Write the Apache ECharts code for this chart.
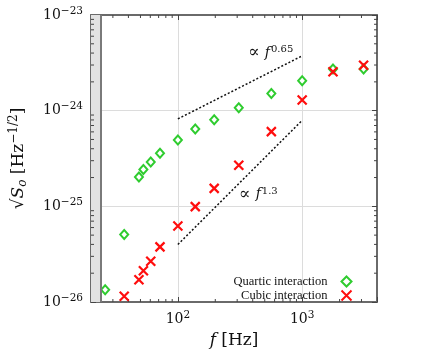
<!DOCTYPE html>
<html>
<head>
<meta charset="utf-8">
<script src="https://cdn.jsdelivr.net/npm/echarts@6/dist/echarts.min.js"></script>
<style>
  html, body { margin: 0; padding: 0; background: #fff; }
  #main { width: 436px; height: 354px; }
</style>
</head>
<body>
<div id="main"></div>
<script>
// frequencies [Hz]
var quarticFreq = [26, 37, 48.6, 52.8, 60.5, 71.8, 100, 138, 196, 309, 565, 1000, 1770, 3120];
var quarticAmp  = [1.34e-26, 5.07e-26, 2.02e-25, 2.43e-25, 2.9e-25, 3.59e-25, 4.95e-25, 6.45e-25, 8.05e-25, 1.07e-24, 1.51e-24, 2.05e-24, 2.72e-24, 2.72e-24];

var cubicFreq = [37, 48.6, 52.8, 60.5, 71.8, 100, 138, 196, 309, 565, 1000, 1770, 3120];
var cubicAmp  = [1.15e-26, 1.71e-26, 2.12e-26, 2.67e-26, 3.77e-26, 6.24e-26, 9.93e-26, 1.54e-25, 2.69e-25, 6.04e-25, 1.29e-24, 2.55e-24, 2.99e-24];

// reference slopes f^0.65 and f^1.3
var slope065 = [[100, 8.2e-25], [1000, 3.74e-24]];
var slope13  = [[100, 3.99e-26], [1000, 7.92e-25]];
var note065 = [557, 4.02e-24];
var note13  = [443, 1.33e-25];

var lowCut = 24;   // shaded band below this frequency
var xMin = 20, xMax = 4000;
var yMin = 1e-26, yMax = 1e-23;
var yUnit = 1e-26; // log axis works in units of 1e-26

var xMinorTicks = [30, 40, 50, 60, 70, 80, 90, 200, 300, 400, 500, 600, 700, 800, 900, 2000, 3000];
var yMinorTicks = [2e-26, 3e-26, 4e-26, 5e-26, 6e-26, 7e-26, 8e-26, 9e-26,
                   2e-25, 3e-25, 4e-25, 5e-25, 6e-25, 7e-25, 8e-25, 9e-25,
                   2e-24, 3e-24, 4e-24, 5e-24, 6e-24, 7e-24, 8e-24, 9e-24];

var serif = 'DejaVu Serif';
var green = '#2fcc2f';
var red = '#ff0d0d';
var frame = '#6a6a6a';

function sc(v) { return v / yUnit; }
function pairs(xs, ys) {
	return xs.map(function (x, i) { return [x, sc(ys[i])]; });
}

var tickData = [];
xMinorTicks.forEach(function (v) { tickData.push([v, 1, 0]); });
yMinorTicks.forEach(function (v) { tickData.push([xMin, sc(v), 1]); });

var supRich = {
	b: { fontFamily: serif, fontSize: 14, color: '#111' },
	s: { fontFamily: serif, fontSize: 10.5, color: '#111', verticalAlign: 'top', padding: [0, 0, 8, 0] }
};

var noteRich = {
	n: { fontFamily: serif, fontSize: 17, color: '#111' },
	i: { fontFamily: serif, fontStyle: 'italic', fontSize: 14, color: '#111' },
	s: { fontFamily: serif, fontSize: 10, color: '#111', verticalAlign: 'top', padding: [0, 0, 7, 1] }
};

var myChart = echarts.init(document.getElementById('main'));

var option = {
	animation: false,
	grid: { left: 88, right: 59, top: 15, bottom: 51 },
	legend: {
		data: ['Quartic interaction', 'Cubic interaction'],
		orient: 'vertical',
		align: 'right',
		right: 77,
		bottom: 46,
		itemWidth: 10,
		itemHeight: 10,
		itemGap: 0,
		textStyle: { fontFamily: 'Liberation Serif', fontSize: 12.5, color: '#111', padding: [0, 9, 0, 0], lineHeight: 12 }
	},
	xAxis: [{
		type: 'log', logBase: 10, min: xMin, max: xMax,
		position: 'bottom',
		name: '{i|f}{n| [Hz]}',
		nameLocation: 'middle',
		nameGap: 30,
		nameTextStyle: {
			rich: {
				i: { fontFamily: serif, fontStyle: 'italic', fontSize: 17, color: '#111' },
				n: { fontFamily: serif, fontSize: 17, color: '#111' }
			}
		},
		axisLine: { lineStyle: { color: frame, width: 2 } },
		axisTick: { inside: true, length: 5, lineStyle: { color: '#444' } },
		splitLine: { show: true, lineStyle: { color: '#dcdcdc', width: 1 } },
		axisLabel: {
			margin: 8,
			formatter: function (v) {
				var e = Math.log10(v);
				if (Math.abs(e - Math.round(e)) > 1e-6) return '';
				return '{b|10}{s|' + Math.round(e) + '}';
			},
			rich: supRich
		}
	}, {
		type: 'log', logBase: 10, min: xMin, max: xMax,
		position: 'top',
		axisLine: { lineStyle: { color: frame, width: 2 } },
		axisTick: { inside: true, length: 5, lineStyle: { color: '#444' } },
		splitLine: { show: false },
		axisLabel: { show: false }
	}],
	yAxis: [{
		type: 'log', logBase: 10, min: sc(yMin), max: sc(yMax),
		position: 'left',
		name: '{n|√}{i|S}{sub|o}{n| [Hz}{s|−1/2}{n|]}',
		nameLocation: 'middle',
		nameRotate: 90,
		nameGap: 62,
		nameTextStyle: {
			rich: {
				n: { fontFamily: serif, fontSize: 17, color: '#111' },
				i: { fontFamily: serif, fontStyle: 'italic', fontSize: 17, color: '#111' },
				sub: { fontFamily: serif, fontStyle: 'italic', fontSize: 12, color: '#111', verticalAlign: 'bottom', padding: [4, 0, 0, 0] },
				s: { fontFamily: serif, fontSize: 12, color: '#111', verticalAlign: 'top', padding: [0, 0, 9, 0] }
			}
		},
		axisLine: { lineStyle: { color: frame, width: 2 } },
		axisTick: { inside: true, length: 5, lineStyle: { color: '#444' } },
		splitLine: { show: true, lineStyle: { color: '#dcdcdc', width: 1 } },
		axisLabel: {
			margin: 8,
			formatter: function (v) {
				var e = Math.log10(v);
				if (Math.abs(e - Math.round(e)) > 1e-6) return '';
				return '{b|10}{s|−' + Math.abs(Math.round(e) - 26) + '}';
			},
			rich: supRich
		}
	}, {
		type: 'log', logBase: 10, min: sc(yMin), max: sc(yMax),
		position: 'right',
		axisLine: { lineStyle: { color: frame, width: 2 } },
		axisTick: { inside: true, length: 5, lineStyle: { color: '#444' } },
		splitLine: { show: false },
		axisLabel: { show: false }
	}],
	series: [
		{
			// shaded low-frequency band
			name: 'band',
			type: 'line',
			data: [],
			markArea: {
				silent: true,
				itemStyle: { color: '#e2e2e2' },
				data: [[{ xAxis: xMin }, { xAxis: lowCut }]]
			},
			markLine: {
				silent: true,
				symbol: 'none',
				label: { show: false },
				lineStyle: { color: '#7a7a7a', width: 2, type: 'solid' },
				data: [{ xAxis: lowCut }]
			}
		},
		{
			name: 'minor',
			type: 'custom',
			silent: true,
			clip: false,
			data: tickData,
			renderItem: function (params, api) {
				var cs = params.coordSys;
				var kind = api.value(2);
				var st = { stroke: '#444', lineWidth: 1 };
				var len = 3;
				if (kind === 0) {
					var x = api.coord([api.value(0), 1])[0];
					var yb = cs.y + cs.height, yt = cs.y;
					return { type: 'group', children: [
						{ type: 'line', shape: { x1: x, y1: yb, x2: x, y2: yb - len }, style: st },
						{ type: 'line', shape: { x1: x, y1: yt, x2: x, y2: yt + len }, style: st }
					]};
				}
				var y = api.coord([xMin, api.value(1)])[1];
				var xl = cs.x, xr = cs.x + cs.width;
				return { type: 'group', children: [
					{ type: 'line', shape: { x1: xl, y1: y, x2: xl + len, y2: y }, style: st },
					{ type: 'line', shape: { x1: xr, y1: y, x2: xr - len, y2: y }, style: st }
				]};
			}
		},
		{
			name: 'f065',
			type: 'line',
			data: pairs(slope065.map(function (p) { return p[0]; }), slope065.map(function (p) { return p[1]; })),
			symbol: 'none',
			lineStyle: { color: '#111', width: 1.5, type: [2, 2] },
			markPoint: {
				symbol: 'circle', symbolSize: 0,
				data: [{ coord: [note065[0], sc(note065[1])] }],
				label: { show: true, position: 'inside', formatter: '{n|∝ }{i|f}{s|0.65}', rich: noteRich }
			}
		},
		{
			name: 'f13',
			type: 'line',
			data: pairs(slope13.map(function (p) { return p[0]; }), slope13.map(function (p) { return p[1]; })),
			symbol: 'none',
			lineStyle: { color: '#111', width: 1.5, type: [2, 2] },
			markPoint: {
				symbol: 'circle', symbolSize: 0,
				data: [{ coord: [note13[0], sc(note13[1])] }],
				label: { show: true, position: 'inside', formatter: '{n|∝ }{i|f}{s|1.3}', rich: noteRich }
			}
		},
		{
			name: 'Quartic interaction',
			type: 'scatter',
			data: pairs(quarticFreq, quarticAmp),
			symbol: 'diamond',
			symbolSize: [8, 9],
			itemStyle: { color: '#fff', borderColor: green, borderWidth: 2, opacity: 1 },
			z: 3
		},
		{
			name: 'Cubic interaction',
			type: 'scatter',
			data: pairs(cubicFreq, cubicAmp),
			symbol: 'path://M0,0L10,10M10,0L0,10',
			symbolSize: 9,
			itemStyle: { color: 'none', borderColor: red, borderWidth: 2.2, opacity: 1 },
			z: 4
		}
	]
};
myChart.setOption(option);
</script>
</body>
</html>
